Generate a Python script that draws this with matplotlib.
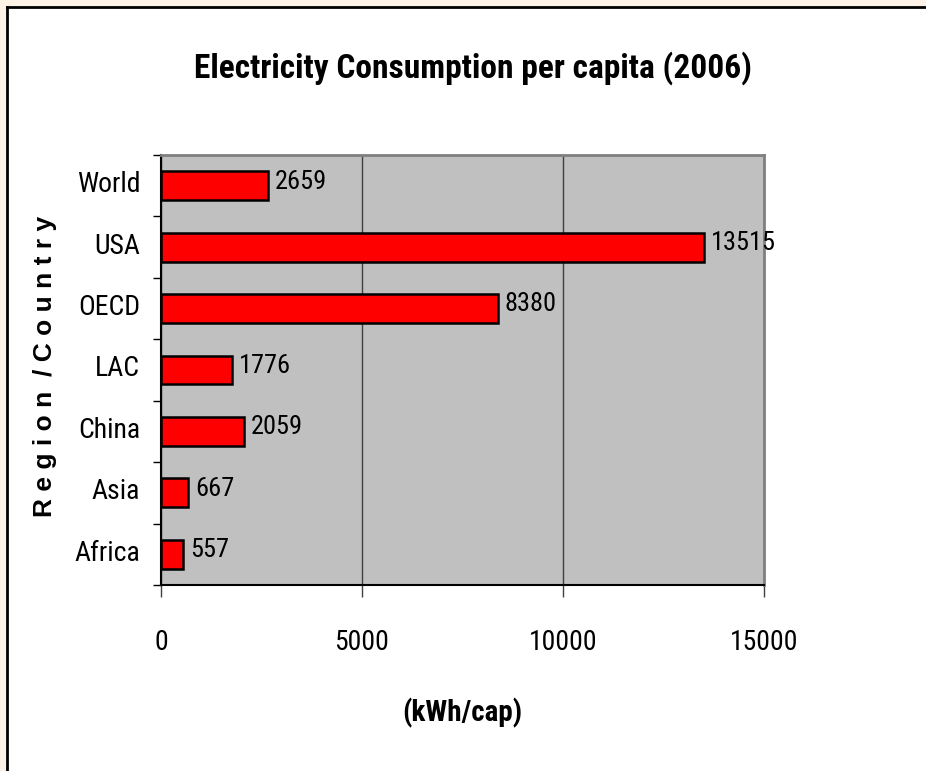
import matplotlib
matplotlib.use("Agg")
import matplotlib.pyplot as plt
import matplotlib.transforms as mtrans
from matplotlib.patches import Rectangle
from matplotlib import font_manager

categories = ["Africa", "Asia", "China", "LAC", "OECD", "USA", "World"]
values = [557, 667, 2059, 1776, 8380, 13515, 2659]
xticks = [0, 5000, 10000, 15000]

names = {f.name for f in font_manager.fontManager.ttflist}
cond = [f for f in ["Liberation Sans Narrow", "Roboto Condensed", "Archivo Narrow",
                    "IBM Plex Sans Condensed"] if f in names]
cond = cond[:1] + ["DejaVu Sans"]
wide = [f for f in ["Liberation Sans"] if f in names] + ["DejaVu Sans"]
plt.rcParams['font.family'] = cond

W, H = 926, 771
fig = plt.figure(figsize=(W/100, H/100), dpi=100)
fig.patch.set_facecolor("#FCF2E6")
fig.add_artist(Rectangle((7/W, 0), 1 - 7/W, 1 - 7/H, transform=fig.transFigure,
                         facecolor="white", edgecolor="none", zorder=0))
fig.add_artist(plt.Line2D([6.5/W, 6.5/W], [0, 1 - 6.5/H], color="black", lw=2, transform=fig.transFigure))
fig.add_artist(plt.Line2D([6.5/W, 1], [1 - 6.5/H, 1 - 6.5/H], color="black", lw=2, transform=fig.transFigure))

left, right, top, bottom = 161, 764, 155, 585
ax = fig.add_axes([left/W, 1 - bottom/H, (right-left)/W, (bottom-top)/H])
ax.set_facecolor("#C0C0C0")

y = list(range(len(categories)))
ax.barh(y, values, height=0.47, color="#FF0000", edgecolor="black", linewidth=1.8, zorder=3)
for yi, v in zip(y, values):
    ax.annotate(str(v), (v, yi), xytext=(5, 3), textcoords="offset points",
                va="center", ha="left", fontsize=19, zorder=4)

ax.set_xlim(0, 15000)
ax.set_ylim(-0.5, len(categories) - 0.5)
ax.set_xticks(xticks)
ax.set_xticklabels([str(t) for t in xticks], fontsize=20)
ax.tick_params(axis="x", direction="out", length=8.6, width=1, pad=23, color="#404040")
ax.set_yticks([i - 0.5 for i in range(len(categories) + 1)])
ax.set_yticklabels([])
ax.set_yticks(y, minor=True)
ax.set_yticklabels(categories, minor=True, fontsize=20)
ax.tick_params(axis="y", which="major", direction="out", length=5.8, width=1, color="black")
ax.tick_params(axis="y", which="minor", length=0, pad=15)
off = mtrans.ScaledTranslation(0, 4/100, fig.dpi_scale_trans)
for lab in ax.get_yticklabels(minor=True):
    lab.set_transform(lab.get_transform() + off)
ax.xaxis.grid(True, color="#404040", linewidth=1, zorder=1)
ax.set_axisbelow(True)
for s in ["left", "bottom"]:
    ax.spines[s].set_color("black")
    ax.spines[s].set_linewidth(1.5)
for s in ["top", "right"]:
    ax.spines[s].set_color("#808080")
    ax.spines[s].set_linewidth(2)

fig.text(473/W, 1 - 68/H, "Electricity Consumption per capita (2006)", ha="center", va="center",
         fontsize=24, fontweight="bold")
fig.text(462/W, 1 - 713/H, "(kWh/cap)", ha="center", va="center", fontsize=21, fontweight="bold")
fig.text(45/W, 1 - 366/H, "R e g i o n  / C o u n t r y", ha="center", va="center", rotation=90,
         fontsize=19, fontweight="bold", family=wide)

fig.savefig("out.png", dpi=100, facecolor=fig.get_facecolor())
